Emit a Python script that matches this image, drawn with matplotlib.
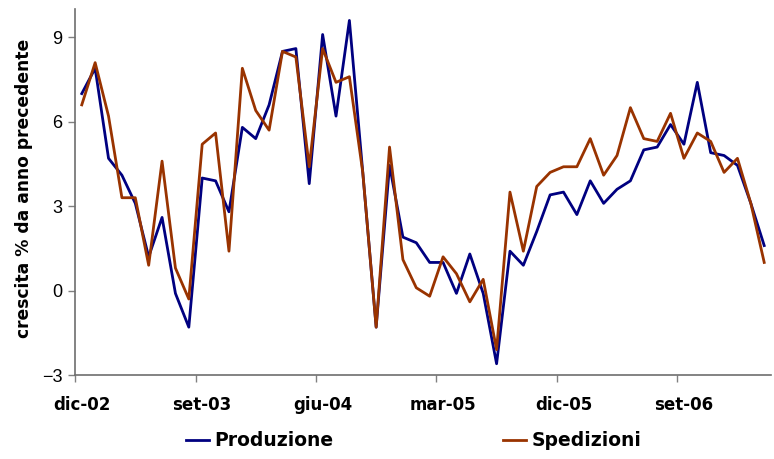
import matplotlib
matplotlib.use("Agg")
import matplotlib.pyplot as plt
import numpy as np

# monthly data, dic-02 .. mar-07
produzione = [7.0, 7.9, 4.7, 4.1, 3.1, 1.2, 2.6, -0.1, -1.3, 4.0,
              3.9, 2.8, 5.8, 5.4, 6.6, 8.5, 8.6, 3.8, 9.1, 6.2,
              9.6, 4.2, -1.3, 4.45, 1.9, 1.7, 1.0, 1.0, -0.1, 1.3,
              -0.1, -2.6, 1.4, 0.9, 2.1, 3.4, 3.5, 2.7, 3.9, 3.1,
              3.6, 3.9, 5.0, 5.1, 5.9, 5.2, 7.4, 4.9, 4.8, 4.45,
              3.1, 1.6]
spedizioni = [6.6, 8.1, 6.2, 3.3, 3.3, 0.9, 4.6, 0.8, -0.3, 5.2,
              5.6, 1.4, 7.9, 6.4, 5.7, 8.5, 8.3, 4.4, 8.6, 7.4,
              7.6, 4.2, -1.3, 5.1, 1.1, 0.1, -0.2, 1.2, 0.6, -0.4,
              0.4, -2.1, 3.5, 1.4, 3.7, 4.2, 4.4, 4.4, 5.4, 4.1,
              4.8, 6.5, 5.4, 5.3, 6.3, 4.7, 5.6, 5.3, 4.2, 4.7,
              3.1, 1.0]
tick_labels = ['dic-02', 'set-03', 'giu-04', 'mar-05', 'dic-05', 'set-06']
tick_step = 9

x = np.arange(len(produzione))

fig = plt.figure(figsize=(7.74, 4.59), dpi=100)
ax = fig.add_axes([0.097, 0.183, 0.899, 0.797])

ax.plot(x, produzione, color='#000080', lw=2.0, label='Produzione')
ax.plot(x, spedizioni, color='#993300', lw=2.0, label='Spedizioni')

ax.set_xlim(-0.5, len(x) - 0.5)
ax.set_ylim(-3, 10)
ax.set_yticks([-3, 0, 3, 6, 9])

# tick marks between categories, labels under categories
ax.set_xticks(np.arange(0, len(x), tick_step))
ax.set_xticklabels(tick_labels, fontfamily='DejaVu Sans', fontweight='bold',
                   fontsize=12)
ax.set_xticks(np.arange(0, len(x), tick_step) - 0.5, minor=True)
ax.tick_params(axis='x', which='major', length=0, pad=15)
ax.tick_params(axis='x', which='minor', length=5, color='#808080', width=1)
ax.tick_params(axis='y', length=5, color='#808080', width=1, pad=4)
for lab in ax.get_yticklabels():
    lab.set_fontfamily('Liberation Sans')
    lab.set_fontsize(13)

for s in ['top', 'right']:
    ax.spines[s].set_visible(False)
for s in ['left', 'bottom']:
    ax.spines[s].set_color('#6e6e6e')
    ax.spines[s].set_linewidth(1.2)

ax.set_ylabel('crescita % da anno precedente', fontfamily='DejaVu Sans',
              fontweight='bold', fontsize=12.3)
ax.yaxis.set_label_coords(-0.060, 0.51)

fig.legend(loc='lower left', bbox_to_anchor=(0.218, -0.018), ncol=2,
           frameon=False, prop={'family': 'DejaVu Sans', 'weight': 'bold', 'size': 13.5},
           handlelength=1.25, handletextpad=0.3, columnspacing=9.0)

fig.savefig('out.png', dpi=100)
